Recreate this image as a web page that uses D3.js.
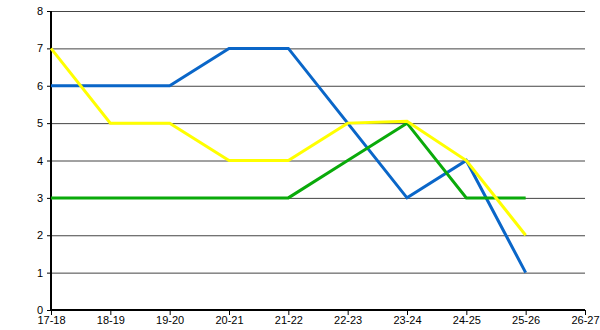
<!DOCTYPE html>
<html><head><meta charset="utf-8">
<script src="https://cdn.jsdelivr.net/npm/d3@7"></script>
<style>body{margin:0;background:#fff}svg{display:block}</style>
</head><body><svg id="c" width="600" height="330"></svg>
<script>
const categories = ["17-18","18-19","19-20","20-21","21-22","22-23","23-24","24-25","25-26","26-27"];
const yTicks = [0,1,2,3,4,5,6,7,8];
const blueValues = [6,6,6,7,7,5,3,4,1];
const greenValues = [3,3,3,3,3,4,5,3,3];
const yellowValues = [7,5,5,4,4,5,5.05,4,2];
const series = [
  {name:"blue", color:"#0a66c8", values:blueValues},
  {name:"green", color:"#0aaa0a", values:greenValues},
  {name:"yellow", color:"#ffff00", values:yellowValues}
];

const svg = d3.select("#c");
const mLeft = 51, mRight = 585, mTop = 11, mBottom = 310;
const x = d3.scalePoint().domain(categories).range([mLeft, mRight]);
const y = d3.scaleLinear().domain([0, 8]).range([mBottom, mTop]);

// gridlines
svg.append("g").selectAll("line").data(yTicks.filter(d=>d>0)).join("line")
  .attr("x1", mLeft).attr("x2", mRight)
  .attr("y1", d=>y(d)+0.5).attr("y2", d=>y(d)+0.5)
  .attr("stroke", "#444").attr("stroke-width", 1);

// y axis
const yAxis = d3.axisLeft(y).tickValues(yTicks).tickSize(4).tickPadding(4).tickFormat(d3.format("d"));
const gy = svg.append("g").attr("transform", `translate(${mLeft},0)`).call(yAxis);
gy.select(".domain").remove();
gy.selectAll("line").attr("stroke", "#000");
gy.selectAll("text").attr("font-family", "Liberation Sans, Arial, sans-serif").attr("font-size", 11).attr("fill", "#000");

// x axis
const xAxis = d3.axisBottom(x).tickSize(5).tickPadding(2);
const gx = svg.append("g").attr("transform", `translate(0,${mBottom})`).call(xAxis);
gx.select(".domain").remove();
gx.selectAll("line").attr("stroke", "#000");
gx.selectAll("text").attr("font-family", "Liberation Sans, Arial, sans-serif").attr("font-size", 11).attr("fill", "#000").attr("dy", "0.62em");

// axis lines
svg.append("line").attr("x1", mLeft).attr("x2", mLeft).attr("y1", mTop).attr("y2", mBottom+1).attr("stroke", "#000").attr("stroke-width", 2);
svg.append("line").attr("x1", mLeft-1).attr("x2", mRight).attr("y1", mBottom).attr("y2", mBottom).attr("stroke", "#000").attr("stroke-width", 2);

// lines
const line = d3.line().x((d,i)=>x(categories[i])).y(d=>y(d));
svg.append("g").selectAll("path").data(series).join("path")
  .attr("d", d=>line(d.values))
  .attr("fill", "none").attr("stroke", d=>d.color).attr("stroke-width", 3)
  .attr("stroke-linejoin", "miter");
</script></body></html>
